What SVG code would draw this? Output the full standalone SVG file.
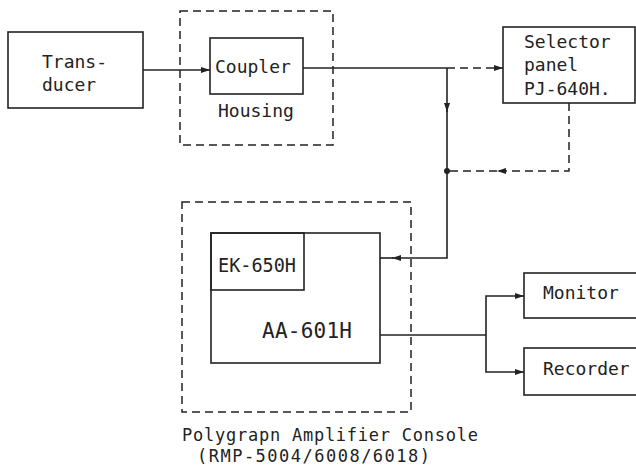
<svg xmlns="http://www.w3.org/2000/svg" width="636" height="471" viewBox="0 0 636 471">
<style>
.box{fill:none;stroke:#222;stroke-width:1.6}
.dbox{fill:none;stroke:#222;stroke-width:1.5;stroke-dasharray:8 5}
.ln{fill:none;stroke:#222;stroke-width:1.6}
.dl{fill:none;stroke:#222;stroke-width:1.5;stroke-dasharray:8 5}
text{font-family:"DejaVu Sans Mono","Liberation Mono",monospace;font-size:18px;fill:#222}
.cap{font-size:17px}
</style>
<defs>
<marker id="arr" markerWidth="9" markerHeight="6" refX="9" refY="3" orient="auto" markerUnits="userSpaceOnUse">
<path d="M0,0 L9,3 L0,6 z" fill="#222"/>
</marker>
</defs>
<rect width="636" height="471" fill="#fff"/>

<g id="transducer">
<rect class="box" x="8" y="32" width="135" height="76"/>
<text x="42" y="68">Trans-</text>
<text x="42" y="91">ducer</text>
</g>

<g id="housing">
<rect class="dbox" x="180" y="11" width="153" height="134"/>
<text x="218" y="117">Housing</text>
</g>

<g id="coupler">
<rect class="box" x="210" y="38" width="93" height="56"/>
<text x="215" y="73">Coupler</text>
</g>

<g id="selector">
<rect class="box" x="503" y="27" width="132" height="76"/>
<text x="524" y="48">Selector</text>
<text x="524" y="71">panel</text>
<text x="524" y="95">PJ-640H.</text>
</g>

<g id="console">
<rect class="dbox" x="182" y="202" width="229" height="210"/>
<text class="cap" x="182" y="441" textLength="296" lengthAdjust="spacing">Polygrapn Amplifier Console</text>
<text class="cap" x="197" y="462" textLength="233" lengthAdjust="spacing">(RMP-5004/6008/6018)</text>
</g>

<g id="aa601h">
<rect class="box" x="211" y="233" width="169" height="130"/>
<text x="262" y="338" style="font-size:21px" textLength="90" lengthAdjust="spacing">AA-601H</text>
</g>

<g id="ek650h">
<rect class="box" x="211" y="233" width="93" height="57"/>
<text x="218" y="272" style="font-size:20px" textLength="78" lengthAdjust="spacingAndGlyphs">EK-650H</text>
</g>

<g id="monitor">
<rect class="box" x="524" y="273" width="120" height="45"/>
<text x="543" y="299">Monitor</text>
</g>

<g id="recorder">
<rect class="box" x="524" y="348" width="120" height="47"/>
<text x="543" y="375">Recorder</text>
</g>

<g id="connectors">
<line class="ln" x1="143" y1="70" x2="210" y2="70" marker-end="url(#arr)"/>
<line class="ln" x1="303" y1="68" x2="447" y2="68"/>
<line class="dl" x1="447" y1="68" x2="503" y2="68" marker-end="url(#arr)"/>
<line class="ln" x1="447" y1="68" x2="447" y2="112" marker-end="url(#arr)"/>
<polyline class="ln" points="447,110 447,258 392,258" marker-end="url(#arr)"/>
<line class="ln" x1="393" y1="258" x2="380" y2="258"/>
<polyline class="dl" points="569,103 569,171 497,171" marker-end="url(#arr)"/>
<line class="dl" x1="497" y1="171" x2="447" y2="171"/>
<circle cx="447" cy="171" r="3" fill="#222"/>
<line class="ln" x1="380" y1="335" x2="486" y2="335"/>
<polyline class="ln" points="486,335 486,296 524,296" marker-end="url(#arr)"/>
<polyline class="ln" points="486,335 486,372 524,372" marker-end="url(#arr)"/>
</g>
</svg>
